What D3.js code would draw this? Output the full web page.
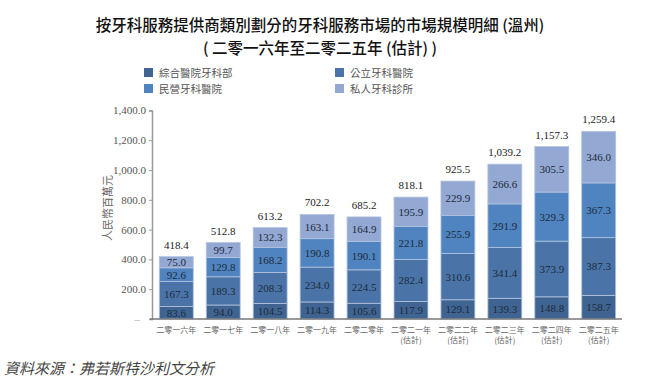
<!DOCTYPE html>
<html><head><meta charset="utf-8">
<script src="https://cdn.jsdelivr.net/npm/d3@7"></script>
<style>body{margin:0;background:#fff}svg{display:block}</style>
</head><body>
<svg id="c" width="662" height="391"></svg>
<script>
const categories = ["二零一六年","二零一七年","二零一八年","二零一九年","二零二零年","二零二一年","二零二二年","二零二三年","二零二四年","二零二五年"];
const estimated = [false,false,false,false,false,true,true,true,true,true];
const seriesNames = ["綜合醫院牙科部","公立牙科醫院","民營牙科醫院","私人牙科診所"];
const general = [83.6,94.0,104.5,114.3,105.6,117.9,129.1,139.3,148.8,158.7];
const publicHosp = [167.3,189.3,208.3,234.0,224.5,282.4,310.6,341.4,373.9,387.3];
const privateHosp = [92.6,129.8,168.2,190.8,190.1,221.8,255.9,291.9,329.3,367.3];
const clinics = [75.0,99.7,132.3,163.1,164.9,195.9,229.9,266.6,305.5,346.0];
const totals = [418.4,512.8,613.2,702.2,685.2,818.1,925.5,1039.2,1157.3,1259.4];
const yTicks = [0,200,400,600,800,1000,1200,1400];
const colors = ["#3f6491","#4a74a8","#4f84c0","#93a8d2"];

const svg = d3.select("#c");
const serif = "'Liberation Serif','Times New Roman',serif";
const cjk = "'Noto Sans CJK TC','Noto Sans CJK SC',sans-serif";

// title
svg.append("text").attr("x",320).attr("y",31).attr("text-anchor","middle")
  .attr("font-family",cjk).attr("font-size",15.5).attr("font-weight",500).attr("fill","#111")
  .text("按牙科服務提供商類別劃分的牙科服務市場的市場規模明細 (溫州)");
svg.append("text").attr("x",320).attr("y",54).attr("text-anchor","middle")
  .attr("font-family",cjk).attr("font-size",15.5).attr("font-weight",500).attr("fill","#111")
  .text("( 二零一六年至二零二五年 (估計) )");

// legend
const legPos = [[144,68],[335,68],[144,84],[335,84]];
seriesNames.forEach((n,i)=>{
  svg.append("rect").attr("x",legPos[i][0]).attr("y",legPos[i][1]).attr("width",9).attr("height",9).attr("fill",colors[i]);
  svg.append("text").attr("x",legPos[i][0]+15).attr("y",legPos[i][1]+8.5)
    .attr("font-family",cjk).attr("font-size",10.5).attr("fill","#555").text(n);
});

const x = d3.scaleBand().domain(categories).range([152,623]).paddingInner(0.277).paddingOuter(0.156);
const y = d3.scaleLinear().domain([0,1400]).range([319,110.4]);

const data = categories.map((c,i)=>({cat:c, s0:general[i], s1:publicHosp[i], s2:privateHosp[i], s3:clinics[i]}));
const stack = d3.stack().keys(["s0","s1","s2","s3"])(data);

const g = svg.append("g");
stack.forEach((layer,li)=>{
  g.selectAll(null).data(layer).enter().append("rect")
    .attr("x",d=>x(d.data.cat)).attr("width",x.bandwidth())
    .attr("y",d=>y(d[1])).attr("height",d=>y(d[0])-y(d[1]))
    .attr("fill",colors[li]).attr("stroke","#b3c3de").attr("stroke-width",0.8);
  g.selectAll(null).data(layer).enter().append("text")
    .attr("x",d=>x(d.data.cat)+x.bandwidth()/2)
    .attr("y",d=>(y(d[0])+y(d[1]))/2+4)
    .attr("text-anchor","middle").attr("font-family",serif).attr("font-size",11).attr("fill","#1e2a3a")
    .text(d=>d3.format(".1f")(d[1]-d[0]));
});
// totals
g.selectAll(null).data(categories).enter().append("text")
  .attr("x",(d)=>x(d)+x.bandwidth()/2)
  .attr("y",(d,i)=>y(totals[i])-8)
  .attr("text-anchor","middle").attr("font-family",serif).attr("font-size",11).attr("fill","#222")
  .text((d,i)=>d3.format(",.1f")(totals[i]));

// y axis
const yAxis = d3.axisLeft(y).tickValues(yTicks).tickSize(3).tickFormat(v=>v===0?"–":d3.format(",.1f")(v));
const ya = svg.append("g").attr("transform","translate(152,0)").call(yAxis);
ya.select(".domain").attr("stroke","#999").attr("stroke-width",1.5);
ya.selectAll(".tick line").attr("stroke","#999");
ya.selectAll("text").attr("font-family",serif).attr("font-size",11).attr("fill","#555");
ya.selectAll(".tick").filter(d=>d===0).select("text").attr("x",-12).attr("fill","#aaa");

// x axis line
svg.append("line").attr("x1",150).attr("x2",622).attr("y1",y(0)).attr("y2",y(0)).attr("stroke","#777").attr("stroke-width",1.5);

// x labels
const xl = svg.append("g");
categories.forEach((c,i)=>{
  const cx = x(c)+x.bandwidth()/2;
  xl.append("text").attr("x",cx).attr("y",333).attr("text-anchor","middle")
    .attr("font-family",cjk).attr("font-size",8).attr("fill","#666").text(c);
  if(estimated[i]) xl.append("text").attr("x",cx).attr("y",343).attr("text-anchor","middle")
    .attr("font-family",cjk).attr("font-size",8).attr("fill","#666").text("(估計)");
});

// y title
svg.append("text").attr("transform","translate(112,208) rotate(-90)").attr("text-anchor","middle")
  .attr("font-family",cjk).attr("font-size",11).attr("fill","#666").text("人民幣百萬元");

// source
svg.append("text").attr("x",4).attr("y",374).attr("font-family",cjk).attr("font-size",15)
  .attr("font-style","italic").attr("fill","#444").text("資料來源：弗若斯特沙利文分析");
</script>
</body></html>
